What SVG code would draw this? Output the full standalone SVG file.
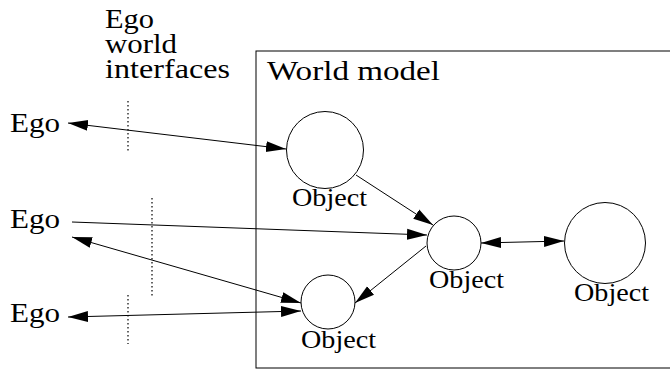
<svg xmlns="http://www.w3.org/2000/svg" width="670" height="369" viewBox="0 0 670 369">
<style>
text{font-family:"Liberation Serif","DejaVu Serif",serif;fill:#000}
.big{font-size:28px}
.obj{font-size:25px}
.c{fill:#fff;stroke:#000;stroke-width:1}
.e{stroke:#000;stroke-width:1;fill:none}
.dot{stroke:#000;stroke-width:1.2;stroke-dasharray:1.5 2.5;fill:none}
</style>
<defs>
<marker id="ah" markerUnits="userSpaceOnUse" markerWidth="20" markerHeight="12" refX="20" refY="5.5" orient="auto-start-reverse" viewBox="0 0 20 11">
<path d="M0,0 L20,5.5 L0,11 z" fill="#000"/>
</marker>
</defs>
<rect id="world" x="256" y="51" width="430" height="317" fill="none" stroke="#000" stroke-width="1"/>
<text class="big" x="267" y="80" textLength="173" lengthAdjust="spacingAndGlyphs">World model</text>
<g id="header">
<text class="big" x="105" y="28" textLength="49" lengthAdjust="spacingAndGlyphs">Ego</text>
<text class="big" x="105" y="53" textLength="72" lengthAdjust="spacingAndGlyphs">world</text>
<text class="big" x="105" y="78" textLength="125" lengthAdjust="spacingAndGlyphs">interfaces</text>
</g>
<g id="interfaces">
<line class="dot" x1="128" y1="101" x2="128" y2="151"/>
<line class="dot" x1="152" y1="198" x2="152" y2="296"/>
<line class="dot" x1="128" y1="295" x2="128" y2="344"/>
</g>
<g id="ego1"><text class="big" x="10" y="132" textLength="50" lengthAdjust="spacingAndGlyphs">Ego</text></g>
<g id="ego2"><text class="big" x="10" y="228" textLength="50" lengthAdjust="spacingAndGlyphs">Ego</text></g>
<g id="ego3"><text class="big" x="10" y="322" textLength="50" lengthAdjust="spacingAndGlyphs">Ego</text></g>
<g id="obj1"><circle class="c" cx="325" cy="150" r="38.5"/><text class="obj" x="292" y="206" textLength="75" lengthAdjust="spacingAndGlyphs">Object</text></g>
<g id="obj2"><circle class="c" cx="454" cy="243" r="27"/><text class="obj" x="429" y="288" textLength="75" lengthAdjust="spacingAndGlyphs">Object</text></g>
<g id="obj3"><circle class="c" cx="605" cy="243" r="40.5"/><text class="obj" x="574" y="301" textLength="75" lengthAdjust="spacingAndGlyphs">Object</text></g>
<g id="obj4"><circle class="c" cx="328" cy="302" r="27"/><text class="obj" x="301" y="348" textLength="75" lengthAdjust="spacingAndGlyphs">Object</text></g>
<g id="connectors">
<line class="e" x1="68" y1="123" x2="286" y2="149" marker-start="url(#ah)" marker-end="url(#ah)"/>
<line class="e" x1="72" y1="222" x2="427" y2="235" marker-end="url(#ah)"/>
<line class="e" x1="72" y1="237" x2="301" y2="303" marker-start="url(#ah)" marker-end="url(#ah)"/>
<line class="e" x1="68" y1="317" x2="301" y2="311" marker-start="url(#ah)" marker-end="url(#ah)"/>
<line class="e" x1="356" y1="175" x2="433" y2="225" marker-end="url(#ah)"/>
<line class="e" x1="426" y1="246" x2="355" y2="303" marker-end="url(#ah)"/>
<line class="e" x1="481" y1="243" x2="564" y2="241" marker-start="url(#ah)" marker-end="url(#ah)"/>
</g>
</svg>
